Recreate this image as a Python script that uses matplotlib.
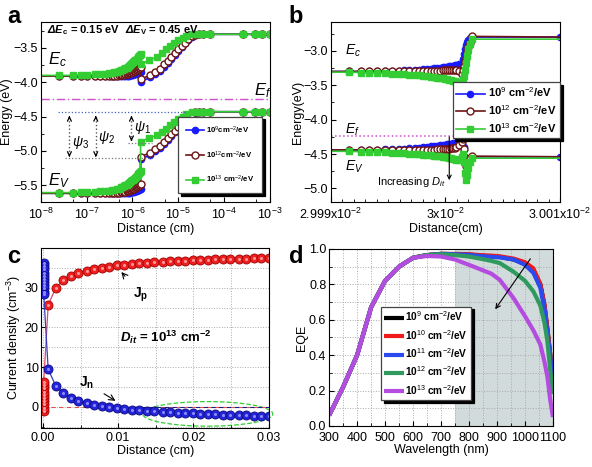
import numpy as np
import matplotlib
matplotlib.use('Agg')
import matplotlib.pyplot as plt
from matplotlib.ticker import MultipleLocator, LogLocator, NullFormatter
from matplotlib.patches import Ellipse

plt.rcParams['font.family'] = ['Liberation Sans', 'DejaVu Sans']
plt.rcParams['mathtext.fontset'] = 'custom'
plt.rcParams['mathtext.rm'] = 'Liberation Sans'
plt.rcParams['mathtext.it'] = 'Liberation Sans:italic'
plt.rcParams['mathtext.bf'] = 'Liberation Sans:bold'
try:
    plt.rcParams['mathtext.bfit'] = 'Liberation Sans:bold:italic'
except KeyError:
    pass
plt.rcParams['xtick.direction'] = 'in'
plt.rcParams['ytick.direction'] = 'in'
plt.rcParams['ytick.major.pad'] = 2
plt.rcParams['xtick.major.pad'] = 3
plt.rcParams['font.size'] = 9

# ---------------- panel a : band diagram near the front interface (distance in nm) -------------
dist_left = [0.1, 0.25, 0.5, 0.75, 1.0, 1.5, 2.0, 2.5, 3.0, 3.5, 4.0, 4.5, 5.0, 5.5, 6.0, 6.5, 7.0,
             7.5, 8.0, 8.5, 9.0, 9.5, 10.0, 10.5, 11.0, 11.5, 12.0, 12.5, 13.0, 13.5, 14.0, 14.5, 15.0]
dist_right = [15, 24, 31, 40, 49, 60, 71, 85, 100, 118, 140, 165, 195, 230, 280, 350, 490,
              2600, 4700, 6800, 10000]
dist_right_g = [15, 23, 35, 43, 53, 66, 80, 100, 124, 150, 195, 250, 350, 490, 2600, 4700, 6800, 10000]

ec_left_9 = [-3.91] * 19 + [-3.905, -3.90, -3.898, -3.895, -3.89, -3.885, -3.88, -3.875, -3.87,
                            -3.865, -3.86, -3.855, -3.85, -3.845]
ec_left_12 = [-3.91] * 10 + [-3.908, -3.905, -3.90, -3.897, -3.893, -3.89, -3.885, -3.88, -3.875,
                             -3.87, -3.865, -3.86, -3.85, -3.845, -3.84, -3.83, -3.825, -3.815,
                             -3.81, -3.80, -3.795, -3.785, -3.78]
ec_left_13 = [-3.90, -3.90, -3.90, -3.895, -3.89, -3.885, -3.88, -3.875, -3.87, -3.86, -3.855,
              -3.845, -3.84, -3.825, -3.815, -3.805, -3.795, -3.785, -3.77, -3.76, -3.745, -3.735,
              -3.72, -3.71, -3.695, -3.68, -3.67, -3.655, -3.64, -3.625, -3.615, -3.60, -3.59]
ev_left_9 = [-5.62] * 19 + [-5.615, -5.61, -5.608, -5.605, -5.60, -5.595, -5.59, -5.585, -5.58,
                            -5.575, -5.57, -5.565, -5.56, -5.555]
ev_left_12 = [-5.62] * 10 + [-5.618, -5.615, -5.61, -5.607, -5.603, -5.60, -5.595, -5.59, -5.585,
                             -5.58, -5.575, -5.57, -5.56, -5.555, -5.55, -5.54, -5.535, -5.525,
                             -5.52, -5.51, -5.505, -5.495, -5.49]
ev_left_13 = [-5.61, -5.61, -5.61, -5.605, -5.60, -5.595, -5.59, -5.585, -5.58, -5.57, -5.565,
              -5.555, -5.55, -5.535, -5.525, -5.515, -5.505, -5.495, -5.48, -5.47, -5.455, -5.445,
              -5.43, -5.42, -5.405, -5.39, -5.38, -5.365, -5.35, -5.335, -5.325, -5.31, -5.30]

ec_right_9 = [-3.995, -3.93, -3.88, -3.83, -3.77, -3.715, -3.655, -3.60, -3.54, -3.485, -3.43,
              -3.38, -3.34, -3.315, -3.30, -3.30, -3.30, -3.30, -3.30, -3.30, -3.30]
ec_right_12 = [-3.955, -3.90, -3.85, -3.80, -3.74, -3.69, -3.63, -3.58, -3.52, -3.47, -3.42,
               -3.37, -3.33, -3.31, -3.30, -3.30, -3.30, -3.30, -3.30, -3.30, -3.30]
ec_right_13 = [-3.74, -3.68, -3.63, -3.58, -3.52, -3.47, -3.42, -3.38, -3.35, -3.32, -3.30,
               -3.30, -3.30, -3.30, -3.30, -3.30, -3.30, -3.30]
ev_right_9 = [-5.125, -5.06, -5.01, -4.96, -4.90, -4.845, -4.785, -4.73, -4.67, -4.615, -4.56,
              -4.51, -4.47, -4.445, -4.43, -4.43, -4.43, -4.43, -4.43, -4.43, -4.43]
ev_right_12 = [-5.085, -5.03, -4.98, -4.93, -4.87, -4.82, -4.76, -4.71, -4.65, -4.60, -4.55,
               -4.50, -4.46, -4.44, -4.43, -4.43, -4.43, -4.43, -4.43, -4.43, -4.43]
ev_right_13 = [-4.87, -4.81, -4.775, -4.725, -4.68, -4.63, -4.58, -4.53, -4.50, -4.46, -4.44,
               -4.43, -4.43, -4.43, -4.43, -4.43, -4.43, -4.43]
ef_a = -4.25

# ---------------- panel b : band diagram near the rear interface --------------------------------
off_b = [0, 1.6, 2.6, 3.3, 4.0, 4.7, 5.3, 5.9, 6.4, 6.8, 7.3, 7.7, 8.05, 8.4, 8.7, 9.0, 9.27, 9.5,
         9.74, 9.95, 10.15, 10.32, 10.5, 10.67, 10.82, 10.96,
         11.2, 11.4, 11.5, 11.6, 11.7, 11.8, 11.9, 12.0, 12.1, 12.3, 20]   # x = 2.999e-2 + off*1e-6 cm
ec_b_9 = [-3.30, -3.30, -3.30, -3.30, -3.295, -3.295, -3.29, -3.29, -3.285, -3.28, -3.28, -3.275,
          -3.27, -3.265, -3.26, -3.255, -3.25, -3.245, -3.24, -3.235, -3.23, -3.225, -3.22, -3.215,
          -3.21, -3.20, -3.19, -3.18, -3.12, -3.05, -2.98, -2.92, -2.87, -2.84, -2.82, -2.80, -2.80]
ec_b_12 = [-3.30, -3.30, -3.30, -3.30, -3.30, -3.30, -3.30, -3.30, -3.30, -3.30, -3.30, -3.295,
           -3.295, -3.295, -3.29, -3.29, -3.29, -3.29, -3.285, -3.285, -3.285, -3.28, -3.28, -3.28,
           -3.28, -3.275, -3.30, -3.33, -3.28, -3.22, -3.16, -3.11, -3.02, -2.95, -2.88, -2.79, -2.80]
ec_b_13 = [-3.31, -3.31, -3.315, -3.32, -3.32, -3.325, -3.33, -3.335, -3.34, -3.345, -3.35, -3.355,
           -3.36, -3.37, -3.375, -3.38, -3.39, -3.395, -3.40, -3.41, -3.415, -3.42, -3.43, -3.435,
           -3.44, -3.45, -3.46, -3.45, -3.42, -3.36, -3.28, -3.18, -3.07, -2.97, -2.90, -2.83, -2.83]
ev_b_9 = [-4.44, -4.44, -4.44, -4.435, -4.435, -4.43, -4.43, -4.425, -4.42, -4.415, -4.41, -4.405,
          -4.40, -4.395, -4.39, -4.385, -4.38, -4.375, -4.37, -4.365, -4.36, -4.355, -4.35, -4.345,
          -4.34, -4.335, -4.32, -4.29, -4.27, -4.40, -4.55, -4.64, -4.62, -4.59, -4.56, -4.54, -4.54]
ev_b_12 = [-4.44] * 11 + [-4.435] * 5 + [-4.43] * 4 + [-4.425, -4.42, -4.415, -4.41, -4.405, -4.40,
           -4.37, -4.32, -4.28, -4.42, -4.58, -4.68, -4.64, -4.60, -4.56, -4.53, -4.54]
ev_b_13 = [-4.46, -4.46, -4.465, -4.47, -4.47, -4.475, -4.48, -4.485, -4.49, -4.495, -4.50, -4.505,
           -4.51, -4.515, -4.52, -4.525, -4.53, -4.535, -4.54, -4.545, -4.55, -4.555, -4.56, -4.565,
           -4.57, -4.58, -4.59, -4.55, -4.50, -4.62, -4.78, -4.88, -4.80, -4.70, -4.62, -4.56, -4.56]
ef_b = -4.24

# ---------------- panel c : current density ----------------------------------------------------
x_c = [0.0007, 0.0017, 0.0027, 0.0037, 0.0047, 0.0058, 0.0068, 0.0078, 0.0088, 0.0098, 0.0108,
       0.0118, 0.0128, 0.0138, 0.0148, 0.0159, 0.0169, 0.0179, 0.0189, 0.0199, 0.0209, 0.0219,
       0.0229, 0.0239, 0.0249, 0.0260, 0.0270, 0.0280, 0.0290, 0.0300]
jp = [25.7, 29.9, 31.9, 32.9, 33.7, 34.3, 34.7, 35.0, 35.3, 35.6, 35.8, 36.0, 36.15, 36.3, 36.4,
      36.5, 36.6, 36.7, 36.8, 36.9, 36.95, 37.0, 37.1, 37.15, 37.2, 37.25, 37.3, 37.35, 37.4, 37.45]
jn = [9.4, 5.3, 3.5, 2.3, 1.5, 0.9, 0.5, 0.2, -0.05, -0.3, -0.5, -0.7, -0.85, -1.0, -1.15, -1.3,
      -1.4, -1.5, -1.6, -1.7, -1.8, -1.9, -1.95, -2.0, -2.1, -2.15, -2.2, -2.3, -2.35, -2.4]
x_c0 = 0.0001
jp_front = [-1.0, -0.2, 0.6, 1.4, 2.2, 3.0, 3.8, 4.6, 5.4, 6.2]
jn_front = [36.2, 35.4, 34.6, 33.8, 33.0, 32.2, 31.4, 30.6, 29.8, 29.0, 28.4]

# ---------------- panel d : EQE ------------------------------------------------------------------
wl = [300, 350, 400, 450, 500, 550, 600, 650, 700, 750, 800, 840, 880, 910, 960, 1000, 1030,
      1055, 1070, 1080, 1090, 1100]
eqe_9 = [0.06, 0.22, 0.40, 0.67, 0.82, 0.90, 0.95, 0.965, 0.972, 0.97, 0.968, 0.962, 0.958, 0.955,
         0.94, 0.915, 0.88, 0.80, 0.68, 0.55, 0.41, 0.20]
eqe_10 = [0.06, 0.22, 0.40, 0.67, 0.82, 0.90, 0.95, 0.965, 0.972, 0.972, 0.97, 0.965, 0.962, 0.958,
          0.945, 0.925, 0.89, 0.80, 0.68, 0.55, 0.41, 0.22]
eqe_11 = [0.06, 0.22, 0.40, 0.67, 0.82, 0.90, 0.95, 0.965, 0.972, 0.97, 0.966, 0.96, 0.955, 0.952,
          0.94, 0.91, 0.865, 0.78, 0.66, 0.53, 0.40, 0.24]
eqe_12 = [0.06, 0.22, 0.40, 0.67, 0.82, 0.90, 0.95, 0.965, 0.97, 0.965, 0.957, 0.945, 0.932, 0.92,
          0.87, 0.82, 0.76, 0.68, 0.58, 0.48, 0.32, 0.18]
eqe_13 = [0.06, 0.22, 0.40, 0.67, 0.82, 0.90, 0.95, 0.96, 0.957, 0.94, 0.91, 0.885, 0.86, 0.825,
          0.72, 0.62, 0.54, 0.46, 0.36, 0.28, 0.15, 0.05]

lab_a = [r'10$^{9}$cm$^{-2}$/eV', r'10$^{12}$cm$^{-2}$/eV', r'10$^{13}$ cm$^{-2}$/eV']
lab_b = [r'10$^{9}$ cm$^{-2}$/eV', r'10$^{12}$ cm$^{-2}$/eV', r'10$^{13}$ cm$^{-2}$/eV']
lab_d = [r'10$^{9}$ cm$^{-2}$/eV', r'10$^{10}$ cm$^{-2}$/eV', r'10$^{11}$ cm$^{-2}$/eV',
         r'10$^{12}$ cm$^{-2}$/eV', r'10$^{13}$ cm$^{-2}$/eV']

c_blue = '#1a1aff'
c_mar = '#6e1414'
c_grn = '#33cc33'
c_ef = '#d050d0'

fig = plt.figure(figsize=(5.92, 4.67), dpi=100)

def leg_box(lg):
    fr = lg.get_frame()
    fr.set_edgecolor('#444444')
    fr.set_linewidth(0.9)

# ======================= a =======================
ax = fig.add_axes([0.069, 0.567, 0.387, 0.386])
ax.set_xscale('log')
styles = [(c_blue, 'o', c_blue, 4.5), (c_mar, 'o', 'white', 5), (c_grn, 's', c_grn, 5)]
ec_all = [(ec_left_9 + ec_right_9, dist_right), (ec_left_12 + ec_right_12, dist_right),
          (ec_left_13 + ec_right_13, dist_right_g)]
ev_all = [ev_left_9 + ev_right_9, ev_left_12 + ev_right_12, ev_left_13 + ev_right_13]
handles = []
for (ec, dr), ev, (col, mk, mfc, ms), lb in zip(ec_all, ev_all, styles, lab_a):
    x = np.array(dist_left + dr) * 1e-7
    me = list(range(1, len(x)))
    h, = ax.plot(x, ec, color=col, marker=mk, mfc=mfc, mec=col, ms=ms, lw=1.2, markevery=me,
                 label=lb)
    ax.plot(x, ev, color=col, marker=mk, mfc=mfc, mec=col, ms=ms, lw=1.2, markevery=me)
    handles.append(h)
ax.axhline(ef_a, color=c_ef, ls=(0, (6, 2, 1, 2)), lw=1)
ax.set_xlim(1e-8, 1e-3)
ax.set_ylim(-5.75, -3.12)
ax.yaxis.set_major_locator(MultipleLocator(0.5))
ax.yaxis.set_minor_locator(MultipleLocator(0.25))
ax.xaxis.set_major_locator(LogLocator(base=10, numticks=10))
ax.xaxis.set_minor_locator(LogLocator(base=10, subs=[5], numticks=10))
ax.xaxis.set_minor_formatter(NullFormatter())
ax.set_xlabel('Distance (cm)', labelpad=1)
ax.set_ylabel('Energy (eV)', labelpad=0)
ax.text(0.026, 0.955, r'$\mathbfit{\Delta E}_\mathbf{c}$ = 0.15 eV', transform=ax.transAxes,
        fontsize=8, fontweight='bold', va='center')
ax.text(0.367, 0.955, r'$\mathbfit{\Delta E}_\mathbf{V}$ = 0.45 eV', transform=ax.transAxes,
        fontsize=8, fontweight='bold', va='center')
ax.text(0.03, 0.79, r'$E_c$', transform=ax.transAxes, fontsize=12, va='center')
ax.text(0.93, 0.62, r'$E_f$', transform=ax.transAxes, fontsize=12, va='center')
ax.text(0.03, 0.12, r'$E_V$', transform=ax.transAxes, fontsize=12, va='center')
# psi annotations
ax.plot([2.35e-8, 1.55e-5], [-4.44, -4.44], color='#4060c0', ls=':', lw=0.9)
ax.plot([3.3e-8, 2.6e-6], [-5.11, -5.11], color='#777777', ls=':', lw=0.9)
ax.plot([7.9e-7, 2.6e-6], [-4.88, -4.88], color='#777777', ls=':', lw=0.9)
for xa, yb in [(4.2e-8, -5.09), (1.58e-7, -5.09), (9.5e-7, -4.86)]:
    ax.plot([xa, xa], [-4.50, yb], color='#555555', ls=':', lw=1)
    ax.annotate('', xy=(xa, -4.49), xytext=(xa, -4.56),
                arrowprops=dict(arrowstyle='->', color='k', lw=0.9, mutation_scale=7))
    ax.annotate('', xy=(xa, yb), xytext=(xa, yb + 0.07),
                arrowprops=dict(arrowstyle='->', color='k', lw=0.9, mutation_scale=7))
ax.text(4.8e-8, -4.88, r'$\psi_3$', fontsize=10, va='center')
ax.text(1.74e-7, -4.81, r'$\psi_2$', fontsize=10, va='center')
ax.text(1.1e-6, -4.66, r'$\psi_1$', fontsize=10, va='center')
lg = ax.legend(handles=handles, loc='lower right', bbox_to_anchor=(0.965, 0.05),
               prop={'weight': 'bold', 'size': 5.6}, fancybox=False, framealpha=1,
               shadow={'color': 'black', 'alpha': 1}, handlelength=2.4, labelspacing=1.75,
               borderpad=1.0, handletextpad=0.2, borderaxespad=0)
leg_box(lg)

# ======================= b =======================
ax = fig.add_axes([0.559, 0.567, 0.387, 0.386])
xb = 2.999e-2 + np.array(off_b) * 1e-6
me_in = list(range(1, len(xb) - 1))
handles = []
for ec, ev, (col, mk, mfc, ms), lb, me in zip([ec_b_9, ec_b_12, ec_b_13], [ev_b_9, ev_b_12, ev_b_13],
                                             styles, lab_b,
                                             [list(range(1, len(xb))), me_in, me_in]):
    h, = ax.plot(xb, ec, color=col, marker=mk, mfc=mfc, mec=col, ms=ms, lw=1.2, markevery=me,
                 label=lb)
    ax.plot(xb, ev, color=col, marker=mk, mfc=mfc, mec=col, ms=ms, lw=1.2, markevery=me)
    handles.append(h)
ax.axhline(ef_b, color=c_ef, ls=':', lw=1.1)
ax.set_xlim(2.999e-2, 3.001e-2)
ax.set_ylim(-5.2, -2.58)
ax.set_xticks([2.999e-2, 3.0e-2, 3.001e-2],
              [r'2.999x10$^{-2}$', r'3x10$^{-2}$', r'3.001x10$^{-2}$'])
ax.xaxis.set_minor_locator(MultipleLocator(1e-6))
ax.yaxis.set_major_locator(MultipleLocator(0.5))
ax.yaxis.set_minor_locator(MultipleLocator(0.25))
ax.set_xlabel('Distance(cm)', labelpad=1)
ax.set_ylabel('Energy(eV)', labelpad=0)
ax.text(0.06, 0.84, r'$E_c$', transform=ax.transAxes, fontsize=10, va='center')
ax.text(0.06, 0.40, r'$E_f$', transform=ax.transAxes, fontsize=10, va='center')
ax.text(0.06, 0.195, r'$E_V$', transform=ax.transAxes, fontsize=10, va='center')
ax.text(0.35, 0.11, r'Increasing $D_{it}$', transform=ax.transAxes, fontsize=8, ha='center',
        va='center')
ax.annotate('', xy=(2.999e-2 + 10.33e-6, -4.92), xytext=(2.999e-2 + 10.33e-6, -4.21),
            arrowprops=dict(arrowstyle='->', color='k', lw=0.8, mutation_scale=7))
lg = ax.legend(handles=handles, loc='upper right', bbox_to_anchor=(1.0, 0.665),
               prop={'weight': 'bold', 'size': 8}, fancybox=False, framealpha=1,
               shadow={'color': 'black', 'alpha': 1}, handlelength=2.6, labelspacing=0.35,
               borderpad=0.3, handletextpad=0.3, borderaxespad=0)
leg_box(lg)

# ======================= c =======================
ax = fig.add_axes([0.070, 0.084, 0.385, 0.385])
ax.grid(True, which='both', color='#aaaaaa', ls=':', lw=0.7)
ax.plot([0, 0.03], [0, 0], color='#e05050', ls=(0, (4, 3)), lw=0.8)
ax.plot([0.012, 0.03], [0, 0], color='#202080', ls=(0, (4, 3)), lw=0.8)
for xs, ys, fc, ec_, hl, lc in [
        ([x_c0] * len(jp_front) + x_c, jp_front + jp, '#ee2020', '#a00000', '#ff9a9a', '#e04a6a'),
        ([x_c0] * len(jn_front) + x_c, jn_front + jn, '#2424d8', '#0a0a80', '#8c8cff', '#3b3bc0')]:
    ax.plot(xs, ys, color=lc, lw=0.9)
    ax.plot(xs, ys, ls='none', marker='o', ms=6.5, mfc=fc, mec=ec_, mew=0.6)
    ax.plot(xs, ys, ls='none', marker='o', ms=2.2, mfc=hl, mec='none')
ax.add_patch(Ellipse((0.0219, -1.8), 0.0173, 6.2, fill=False, ec='#33cc33', ls='--', lw=0.9,
                     clip_on=False))
ax.set_xlim(-0.0002, 0.0301)
ax.set_ylim(-5.3, 40)
ax.set_yticks([0, 10, 20, 30])
ax.xaxis.set_major_locator(MultipleLocator(0.01))
ax.xaxis.set_minor_locator(MultipleLocator(0.005))
ax.yaxis.set_minor_locator(MultipleLocator(5))
ax.xaxis.set_major_formatter(plt.FuncFormatter(lambda v, p: f'{v:.2f}'))
ax.set_xlabel('Distance (cm)', labelpad=1)
ax.set_ylabel(r'Current density (cm$^{-3}$)', labelpad=1)
ax.annotate(r'$\mathbf{J_p}$', xy=(0.0103, 34.2), xytext=(0.0130, 28.3), fontsize=10,
            ha='center', va='center',
            arrowprops=dict(arrowstyle='->', color='k', lw=0.8, shrinkA=6, shrinkB=1))
ax.annotate(r'$\mathbf{J_n}$', xy=(0.0098, 1.3), xytext=(0.0058, 6.0), fontsize=10,
            ha='center', va='center',
            arrowprops=dict(arrowstyle='->', color='k', lw=0.8, shrinkA=6, shrinkB=1))
ax.text(0.0102, 17.4, r'$\mathbfit{D}_{\mathbfit{it}}$ = 10$^{\mathbf{13}}$ cm$^{\mathbf{-2}}$',
        fontsize=9.5, fontweight='bold', va='center')

# ======================= d =======================
ax = fig.add_axes([0.556, 0.088, 0.378, 0.379])
ax.axvspan(750, 1100, color='#d2dbdb', lw=0, zorder=0)
ax.grid(True, which='both', color='#aaaaaa', ls=':', lw=0.7)
handles = []
for ys, col, lb in zip([eqe_9, eqe_10, eqe_11, eqe_12, eqe_13],
                       ['black', '#f01818', '#2a4af0', '#2f9a5f', '#b44ce0'], lab_d):
    h, = ax.plot(wl, ys, color=col, lw=3, label=lb, solid_capstyle='butt')
    handles.append(h)
ax.annotate('', xy=(888, 0.646), xytext=(1025, 0.957),
            arrowprops=dict(arrowstyle='->', color='k', lw=0.8, mutation_scale=8))
ax.set_xlim(300, 1100)
ax.set_ylim(0, 1.0)
ax.xaxis.set_major_locator(MultipleLocator(100))
ax.xaxis.set_minor_locator(MultipleLocator(50))
ax.yaxis.set_major_locator(MultipleLocator(0.2))
ax.yaxis.set_minor_locator(MultipleLocator(0.1))
ax.yaxis.set_major_formatter(plt.FuncFormatter(lambda v, p: f'{v:.1f}'))
ax.tick_params(axis='x', which='major', pad=4.5)
ax.set_xlabel('Wavelength (nm)', labelpad=0)
ax.set_ylabel('EQE', labelpad=1)
lg = ax.legend(handles=handles, loc='lower left', bbox_to_anchor=(0.231, 0.147),
               prop={'weight': 'bold', 'size': 7.3}, fancybox=False, framealpha=1,
               shadow={'color': 'black', 'alpha': 1}, handlelength=2.0, labelspacing=0.45,
               borderpad=0.3, handletextpad=0.1, borderaxespad=0)
leg_box(lg)

for lt, xx, yy in [('a', 0.012, 0.99), ('b', 0.488, 0.99), ('c', 0.012, 0.475), ('d', 0.488, 0.475)]:
    fig.text(xx, yy, lt, fontsize=17, fontweight='bold', va='top')

fig.savefig('out.png', dpi=100)
